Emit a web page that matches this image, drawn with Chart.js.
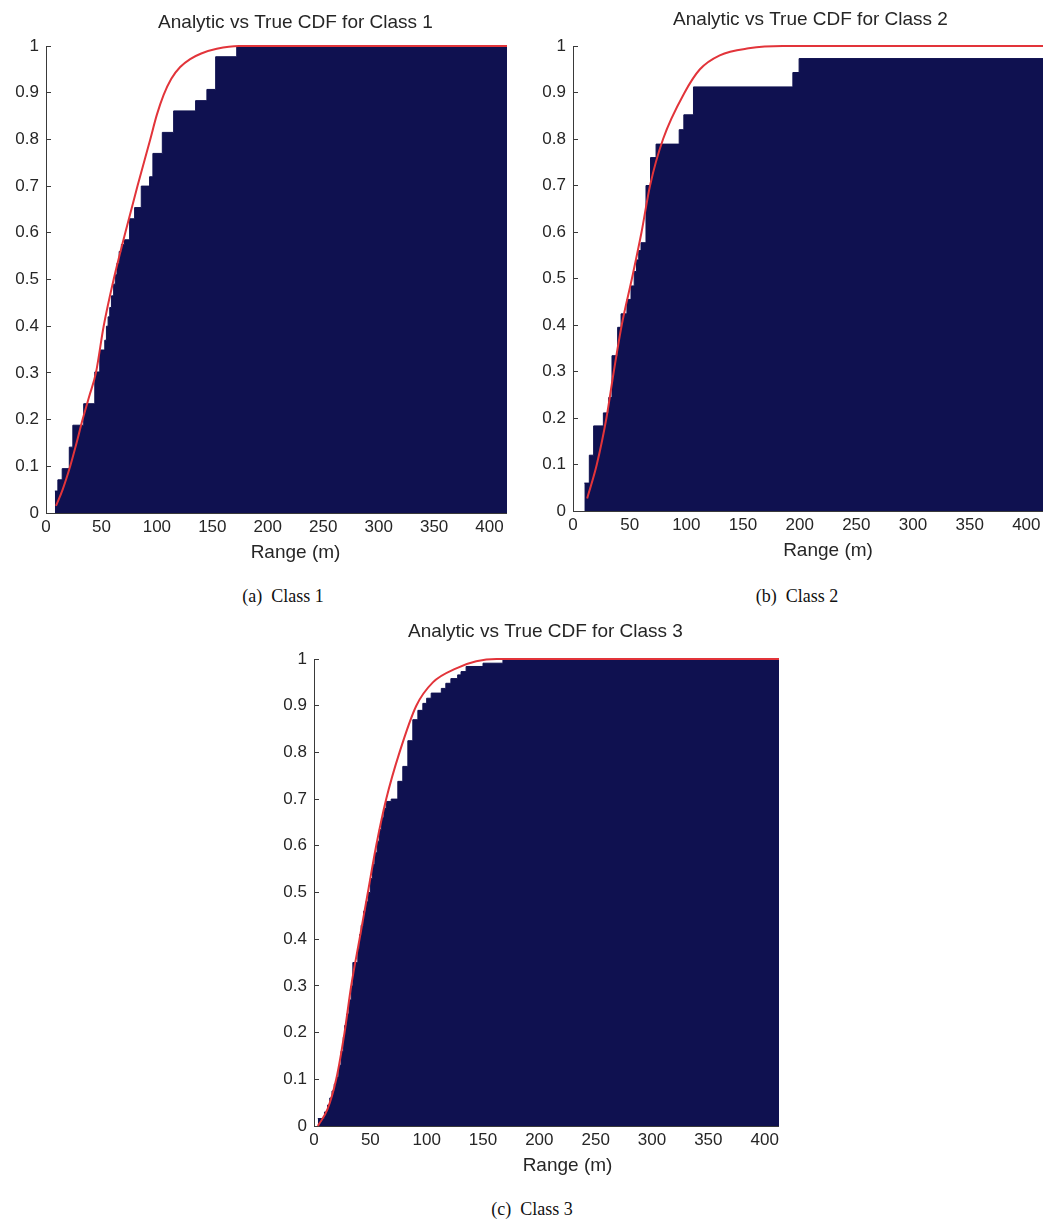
<!DOCTYPE html>
<html>
<head>
<meta charset="utf-8">
<title>Analytic vs True CDF</title>
<script src="https://cdn.jsdelivr.net/npm/chart.js@4.4.1/dist/chart.umd.min.js"></script>
<style>
  html, body { margin: 0; padding: 0; background: #fff; }
  #page { position: relative; width: 1047px; height: 1224px; overflow: hidden; background: #fff; }
  .panel { position: absolute; overflow: hidden; }
  .panel canvas { position: absolute; left: 0; top: 0; }
  .caption {
    position: absolute;
    font-family: "Liberation Serif", "Times New Roman", serif;
    font-size: 18px;
    color: #111;
    white-space: pre;
    transform: translate(-50%, -50%);
  }
</style>
</head>
<body>
<div id="page">
  <div class="panel" style="left:0px;top:0px;width:507px;height:575px">
    <canvas id="chart-1" width="575" height="575" style="width:575px;height:575px"></canvas>
  </div>
  <div class="panel" style="left:530px;top:0px;width:513px;height:575px">
    <canvas id="chart-2" width="583" height="573" style="width:583px;height:573px"></canvas>
  </div>
  <div class="panel" style="left:270px;top:613px;width:509px;height:575px">
    <canvas id="chart-3" width="581" height="575" style="width:581px;height:575px"></canvas>
  </div>
  <div class="caption" style="left:283px;top:596px">(a)  Class 1</div>
  <div class="caption" style="left:797px;top:596px">(b)  Class 2</div>
  <div class="caption" style="left:532px;top:1209px">(c)  Class 3</div>
</div>

<script>
// ---- Tick labels (same on all three panels) ----
const xTickLabels = ["0", "50", "100", "150", "200", "250", "300", "350", "400", "450"];
const yTickLabels = ["0", "0.1", "0.2", "0.3", "0.4", "0.5", "0.6", "0.7", "0.8", "0.9", "1"];

const titles = [
    "Analytic vs True CDF for Class 1",
    "Analytic vs True CDF for Class 2",
    "Analytic vs True CDF for Class 3"
];
const xAxisLabel = "Range (m)";

// ---- Class 1: empirical CDF steps (x where the step starts, level) ----
const c1StepX = [8, 10.7, 14.6, 21, 24.2, 34, 44, 48.5, 53, 54.5, 56, 57.5, 59, 61, 62.5, 64, 66, 68,
                 70.8, 75.4, 79.9, 85.9, 93.4, 96.4, 104.9, 115.1, 134.9, 145.1, 153, 172, 450];
const c1StepY = [0.047, 0.071, 0.095, 0.141, 0.188, 0.234, 0.302, 0.349, 0.37, 0.40, 0.42, 0.44, 0.465, 0.49, 0.51, 0.535, 0.56, 0.575,
                 0.585, 0.63, 0.654, 0.70, 0.72, 0.77, 0.815, 0.861, 0.883, 0.907, 0.977, 1.0, 1.0];
// analytic CDF (red)
const c1CurveX = [9, 15, 21.8, 27, 33, 39, 45, 52, 61, 71.5, 82.5, 94, 100, 106, 113, 121, 130, 140, 154, 174, 450];
const c1CurveY = [0.015, 0.05, 0.1, 0.145, 0.2, 0.25, 0.3, 0.4, 0.5, 0.6, 0.7, 0.8, 0.853, 0.895, 0.93, 0.955, 0.972, 0.984, 0.994, 1.0, 1.0];

// ---- Class 2 ----
const c2StepX = [10, 14.4, 18.2, 26.8, 31.5, 34.4, 39.4, 42.4, 47.6, 51.2, 54, 56, 58, 60,
                 64.4, 68.4, 73.3, 93.7, 97.8, 106.3, 194, 199.5, 450];
const c2StepY = [0.06, 0.12, 0.183, 0.211, 0.244, 0.334, 0.395, 0.424, 0.455, 0.484, 0.515, 0.54, 0.56, 0.577,
                 0.70, 0.76, 0.789, 0.82, 0.852, 0.912, 0.943, 0.973, 0.973];
const c2CurveX = [12.5, 21, 29.5, 36, 43, 52, 60.5, 68, 79.5, 98.5, 112, 129.5, 155, 185, 450];
const c2CurveY = [0.027, 0.1, 0.2, 0.3, 0.4, 0.5, 0.6, 0.7, 0.8, 0.9, 0.95, 0.98, 0.995, 1.0, 1.0];

// ---- Class 3 ----
const c3StepX = [3.4, 9.3, 12, 14, 16, 18, 20, 22, 24, 26, 27.1, 29, 31, 33, 34.5, 38.9, 40.5, 41.9, 44, 46,
                 48, 50, 52, 54, 56, 58, 60, 62, 64, 68.5, 74.4, 78.8, 83.3, 87.7, 92.2, 96.6, 100, 104,
                 113, 117, 121.5, 127.5, 130.5, 135, 150, 167.7, 450];
const c3StepY = [0.016, 0.03, 0.045, 0.06, 0.075, 0.09, 0.105, 0.13, 0.16, 0.19, 0.215, 0.24, 0.27, 0.30, 0.35, 0.38, 0.41, 0.43, 0.46, 0.48,
                 0.50, 0.53, 0.56, 0.585, 0.61, 0.635, 0.66, 0.68, 0.695, 0.70, 0.738, 0.77, 0.825, 0.87, 0.89, 0.905, 0.916, 0.927,
                 0.937, 0.948, 0.958, 0.966, 0.973, 0.984, 0.991, 1.0, 1.0];
const c3CurveX = [3.4, 12, 19.7, 27.1, 33, 40.4, 47.8, 55.2, 64.1, 75.9, 90.8, 105.5, 126.3, 144, 162, 450];
const c3CurveY = [0, 0.036, 0.1, 0.2, 0.3, 0.4, 0.5, 0.6, 0.7, 0.8, 0.9, 0.95, 0.98, 0.995, 1.0, 1.0];

const FILL_COLOR = "#0f1150";
const LINE_COLOR = "#e2343a";
const AXIS_COLOR = "#3a3a3a";
const TEXT_COLOR = "#262626";
const SANS = "'Liberation Sans', Arial, sans-serif";

// ---- Zip two arrays into {x, y} points ----
function toPoints(xs, ys) {
    return xs.map((x, i) => ({ x: x, y: ys[i] }));
}

// ---- Build one panel ----
// layout: padLeft/padRight + yBox/xBox pin the plot area; titleFull picks how the title is centred
function makeChart(canvasId, title, stepX, stepY, curveX, curveY, layout) {
    const ctx = document.getElementById(canvasId).getContext("2d");
    return new Chart(ctx, {
        type: "line",
        data: {
            datasets: [
                {
                    label: "True CDF",
                    data: toPoints(stepX, stepY),
                    stepped: "before",   // level holds from its x until the next x
                    fill: "origin",
                    backgroundColor: FILL_COLOR,
                    borderColor: FILL_COLOR,
                    borderWidth: 1,
                    pointRadius: 0,
                    order: 2
                },
                {
                    label: "Analytic CDF",
                    data: toPoints(curveX, curveY),
                    fill: false,
                    borderColor: LINE_COLOR,
                    borderWidth: 2,
                    pointRadius: 0,
                    cubicInterpolationMode: "monotone",
                    clip: 3,
                    order: 1
                }
            ]
        },
        options: {
            responsive: false,
            animation: false,
            events: [],
            layout: {
                padding: { left: layout.padLeft, right: layout.padRight, top: 0, bottom: 0 }
            },
            plugins: {
                legend: { display: false },
                tooltip: { enabled: false },
                title: {
                    display: true,
                    fullSize: layout.titleFull,
                    text: title,
                    color: TEXT_COLOR,
                    font: { family: SANS, size: 19, weight: "normal", lineHeight: 1.2 },
                    padding: { top: layout.titleTop, bottom: layout.titleBottom }
                }
            },
            scales: {
                x: {
                    type: "linear",
                    min: 0,
                    max: 450,
                    afterFit: (scale) => { scale.height = layout.xBox; },
                    ticks: {
                        stepSize: 50,
                        includeBounds: false,
                        autoSkip: false,
                        maxRotation: 0,
                        padding: 9,
                        color: TEXT_COLOR,
                        font: { family: SANS, size: 17 },
                        callback: (value, index) => xTickLabels[index]
                    },
                    grid: { drawOnChartArea: false, drawTicks: true, tickLength: -5, color: AXIS_COLOR },
                    border: { display: true, color: AXIS_COLOR, width: 1 },
                    title: {
                        display: true,
                        text: xAxisLabel,
                        color: TEXT_COLOR,
                        font: { family: SANS, size: 19, lineHeight: 1.2 },
                        padding: { top: 0, bottom: layout.xTitleBottom }
                    }
                },
                y: {
                    min: 0,
                    max: 1,
                    afterFit: (scale) => { scale.width = layout.yBox; },
                    ticks: {
                        stepSize: 0.1,
                        autoSkip: false,
                        padding: 12,
                        color: TEXT_COLOR,
                        font: { family: SANS, size: 17 },
                        callback: (value, index) => yTickLabels[index]
                    },
                    grid: { drawOnChartArea: false, drawTicks: true, tickLength: -5, color: AXIS_COLOR },
                    border: { display: true, color: AXIS_COLOR, width: 1 }
                }
            }
        }
    });
}

makeChart("chart-1", titles[0], c1StepX, c1StepY, c1CurveX, c1CurveY,
    { padLeft: 0, padRight: 30, yBox: 46, xBox: 62, titleFull: false, titleTop: 11.6, titleBottom: 11.6, xTitleBottom: 10.6 });
makeChart("chart-2", titles[1], c2StepX, c2StepY, c2CurveX, c2CurveY,
    { padLeft: 8, padRight: 30, yBox: 35, xBox: 62, titleFull: true, titleTop: 8.6, titleBottom: 14.6, xTitleBottom: 10.6 });
makeChart("chart-3", titles[2], c3StepX, c3StepY, c3CurveX, c3CurveY,
    { padLeft: 0, padRight: 30, yBox: 44, xBox: 62, titleFull: true, titleTop: 7.6, titleBottom: 15.6, xTitleBottom: 10.6 });
</script>
</body>
</html>
